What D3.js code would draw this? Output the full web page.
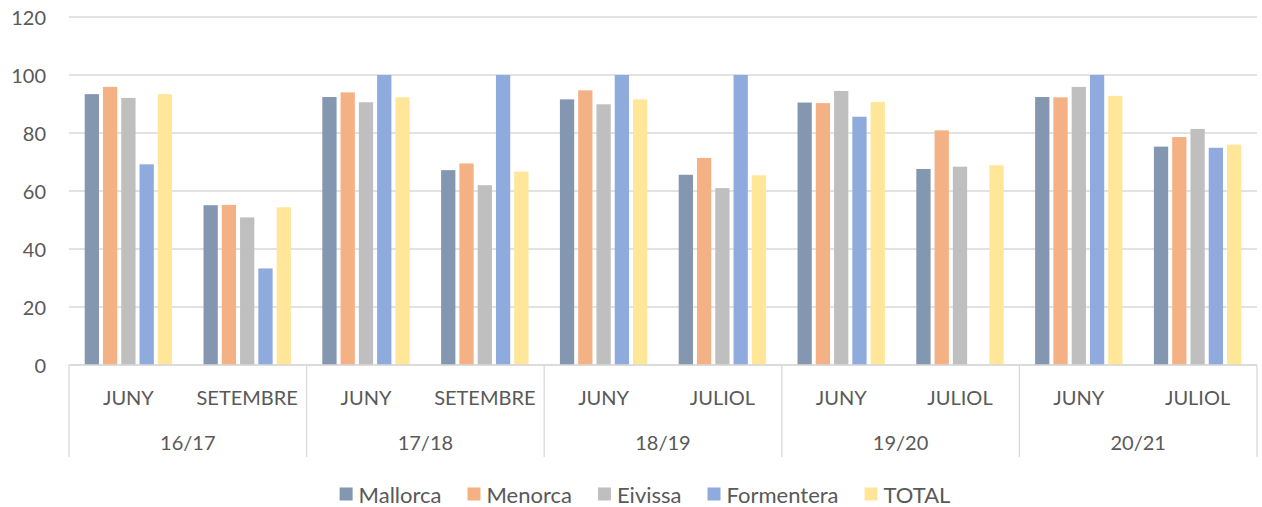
<!DOCTYPE html>
<html>
<head>
<meta charset="utf-8">
<style>
  body {
    margin: 0;
    background-color: #ffffff;
  }

  text {
    font-family: Lato, "Liberation Sans", sans-serif;
    fill: #595959;
  }
</style>
  <script src="https://d3js.org/d3.v7.min.js"></script>
</head>
<body>
<script>
  // courses (outer level) and months (inner level)
  const courses = ['16/17', '17/18', '18/19', '19/20', '20/21'];
  const months = [
    ['JUNY', 'SETEMBRE'],
    ['JUNY', 'SETEMBRE'],
    ['JUNY', 'JULIOL'],
    ['JUNY', 'JULIOL'],
    ['JUNY', 'JULIOL'],
  ];

  const seriesNames = ['Mallorca', 'Menorca', 'Eivissa', 'Formentera', 'TOTAL'];

  // one value per month column, in order 16/17 JUNY ... 20/21 JULIOL
  const mallorca   = [93.4, 55.1, 92.4, 67.2, 91.6, 65.6, 90.5, 67.6, 92.4, 75.3];
  const menorca    = [95.9, 55.2, 94.0, 69.5, 94.7, 71.4, 90.3, 80.9, 92.3, 78.6];
  const eivissa    = [92.1, 50.9, 90.6, 62.0, 89.9, 61.0, 94.5, 68.4, 95.9, 81.4];
  const formentera = [69.2, 33.3, 100, 100, 100, 100, 85.6, null, 100, 74.9];
  const total      = [93.4, 54.4, 92.3, 66.7, 91.6, 65.4, 90.7, 68.9, 92.8, 76.0];

  const yTicks = [0, 20, 40, 60, 80, 100, 120];

  const colors = {
    Mallorca: '#8497B0',
    Menorca: '#F4B183',
    Eivissa: '#BFBFBF',
    Formentera: '#8FAADC',
    TOTAL: '#FFE699',
  };

  const seriesValues = [mallorca, menorca, eivissa, formentera, total];

  const width = 1262;
  const height = 507;
  const plot = { left: 69, right: 1257, top: 17, bottom: 365 };
  const axisBottom = 457;

  const svg = d3.select('body')
    .append('svg')
    .attr('width', width)
    .attr('height', height);

  // flat list of columns
  const columns = [];
  courses.forEach((c, i) => {
    months[i].forEach((m, j) => {
      columns.push({ key: c + '-' + j, course: c, month: m, index: columns.length });
    });
  });

  const x0 = d3.scaleBand()
    .domain(columns.map(d => d.key))
    .range([plot.left, plot.right])
    .padding(0);

  const x1 = d3.scaleBand()
    .domain(seriesNames)
    .range([0, x0.bandwidth()])
    .paddingInner(0)
    .paddingOuter(0.75);

  const y = d3.scaleLinear()
    .domain([0, 120])
    .range([plot.bottom, plot.top]);

  // gridlines
  svg.append('g')
    .selectAll('line')
    .data(yTicks)
    .join('line')
      .attr('x1', plot.left)
      .attr('x2', plot.right)
      .attr('y1', d => y(d))
      .attr('y2', d => y(d))
      .attr('stroke', '#D9D9D9')
      .attr('stroke-width', 1.3);

  // y labels
  svg.append('g')
    .selectAll('text')
    .data(yTicks)
    .join('text')
      .attr('x', 46)
      .attr('y', d => y(d))
      .attr('text-anchor', 'end')
      .attr('dominant-baseline', 'central')
      .style('font-size', '20px')
      .text(d => d);

  // bars
  const barGap = 4;
  const groups = svg.append('g')
    .selectAll('g')
    .data(columns)
    .join('g')
      .attr('transform', d => `translate(${x0(d.key)},0)`);

  groups.selectAll('rect')
    .data(col => seriesNames.map((name, s) => ({ name, value: seriesValues[s][col.index] }))
      .filter(d => d.value != null))
    .join('rect')
      .attr('x', d => x1(d.name) + barGap / 2)
      .attr('width', x1.bandwidth() - barGap)
      .attr('y', d => y(d.value))
      .attr('height', d => y(0) - y(d.value))
      .attr('fill', d => colors[d.name]);

  // category axis: base line and course separators
  svg.append('line')
    .attr('x1', plot.left)
    .attr('x2', plot.right)
    .attr('y1', plot.bottom)
    .attr('y2', plot.bottom)
    .attr('stroke', '#D9D9D9')
    .attr('stroke-width', 1.3);

  const courseEdges = [plot.left].concat(courses.map((c, i) => x0(c + '-1') + x0.bandwidth()));
  svg.append('g')
    .selectAll('line')
    .data(courseEdges)
    .join('line')
      .attr('x1', d => d)
      .attr('x2', d => d)
      .attr('y1', plot.bottom)
      .attr('y2', axisBottom)
      .attr('stroke', '#D9D9D9')
      .attr('stroke-width', 1.3);

  // month labels
  svg.append('g')
    .selectAll('text')
    .data(columns)
    .join('text')
      .attr('x', d => x0(d.key) + x0.bandwidth() / 2)
      .attr('y', 397)
      .attr('text-anchor', 'middle')
      .attr('dominant-baseline', 'central')
      .style('font-size', '20px')
      .text(d => d.month);

  // course labels
  svg.append('g')
    .selectAll('text')
    .data(courses)
    .join('text')
      .attr('x', c => x0(c + '-0') + x0.bandwidth())
      .attr('y', 442)
      .attr('text-anchor', 'middle')
      .attr('dominant-baseline', 'central')
      .style('font-size', '20px')
      .text(c => c);

  // legend
  const legend = svg.append('g');
  const sq = 13;
  let lx = 0;
  seriesNames.forEach(name => {
    const item = legend.append('g').attr('transform', `translate(${lx},0)`);
    item.append('rect')
      .attr('x', 0)
      .attr('y', 494 - sq / 2)
      .attr('width', sq)
      .attr('height', sq)
      .attr('fill', colors[name]);
    const t = item.append('text')
      .attr('x', sq + 6)
      .attr('y', 494)
      .attr('dominant-baseline', 'central')
      .style('font-size', '22px')
      .text(name);
    lx += sq + 6 + t.node().getComputedTextLength() + 26;
  });
  const legendWidth = lx - 26;
  legend.attr('transform', `translate(${645 - legendWidth / 2},0)`);
</script>
</body>
</html>
